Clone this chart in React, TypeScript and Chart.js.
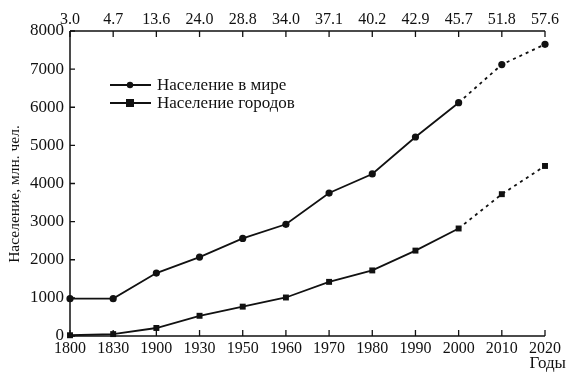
import React, { useEffect, useRef } from 'react';
import { Chart, registerables } from 'chart.js';

Chart.register(...registerables);

const years = ['1800', '1830', '1900', '1930', '1950', '1960', '1970', '1980', '1990', '2000', '2010', '2020'];
const urbanShare = ['3.0', '4.7', '13.6', '24.0', '28.8', '34.0', '37.1', '40.2', '42.9', '45.7', '51.8', '57.6'];
const worldPop = [980, 980, 1650, 2070, 2560, 2930, 3750, 4250, 5220, 6120, 7120, 7650];
const urbanPop = [20, 50, 210, 530, 770, 1010, 1420, 1720, 2240, 2820, 3720, 4460];
const yMin = 0;
const yMax = 8000;
const yStep = 1000;
const legendLabels = ['Население в мире', 'Население городов'];
const yTitle = 'Население, млн. чел.';
const xTitle = 'Годы';
const forecastFrom = 9; // index of 2000: segments after it are dashed

const FONT = "'Liberation Serif', 'Times New Roman', serif";

const axesPlugin = {
  id: 'customAxes',
  beforeDatasetsDraw(chart: any) {
    const { ctx, chartArea: a, scales } = chart;
    ctx.save();
    ctx.strokeStyle = '#111';
    ctx.lineWidth = 1.5;
    ctx.beginPath();
    ctx.moveTo(a.left, a.top);
    ctx.lineTo(a.left, a.bottom);
    ctx.moveTo(a.left, a.bottom);
    ctx.lineTo(a.right, a.bottom);
    ctx.moveTo(a.left, a.top);
    ctx.lineTo(a.right, a.top);
    ctx.stroke();
    ctx.lineWidth = 1.3;
    ctx.beginPath();
    const y = scales.y;
    for (let v = yMin; v <= yMax; v += yStep) {
      const py = y.getPixelForValue(v);
      ctx.moveTo(a.left, py);
      ctx.lineTo(a.left + 5, py);
    }
    const x = scales.x;
    const x2 = scales.x2;
    for (let i = 0; i < years.length; i++) {
      const px = x.getPixelForTick(i);
      ctx.moveTo(px, a.bottom);
      ctx.lineTo(px, a.bottom - 6);
      const px2 = x2.getPixelForTick(i);
      ctx.moveTo(px2, a.top);
      ctx.lineTo(px2, a.top + 6);
    }
    ctx.stroke();
    ctx.restore();
  },
  afterDraw(chart: any) {
    const { ctx } = chart;
    ctx.save();
    ctx.fillStyle = '#111';
    ctx.font = `15.5px ${FONT}`;
    ctx.translate(15, 194);
    ctx.rotate(-Math.PI / 2);
    ctx.textAlign = 'center';
    ctx.textBaseline = 'middle';
    ctx.fillText(yTitle, 0, 0);
    ctx.restore();

    ctx.save();
    ctx.fillStyle = '#111';
    ctx.font = `17px ${FONT}`;
    ctx.textAlign = 'right';
    ctx.textBaseline = 'middle';
    ctx.fillText(xTitle, 566, 364);

    const rows = [85, 103];
    ctx.strokeStyle = '#111';
    ctx.lineWidth = 1.8;
    ctx.textAlign = 'left';
    ctx.font = `17px ${FONT}`;
    rows.forEach((ry, i) => {
      ctx.beginPath();
      ctx.moveTo(110, ry);
      ctx.lineTo(151, ry);
      ctx.stroke();
      ctx.beginPath();
      if (i === 0) {
        ctx.arc(130, ry, 3.2, 0, Math.PI * 2);
      } else {
        ctx.rect(126, ry - 4, 8, 8);
      }
      ctx.fill();
      ctx.fillText(legendLabels[i], 157, ry + 1);
    });
    ctx.restore();
  },
};

export default function App() {
  const ref = useRef<HTMLCanvasElement>(null);
  useEffect(() => {
    document.body.style.margin = '0';
    const canvas = ref.current!;
    const dash = (c: any) => (c.p0DataIndex >= forecastFrom ? [3, 4] : undefined);
    const chart = new Chart(canvas, {
      type: 'line',
      data: {
        labels: years,
        datasets: [
          {
            label: legendLabels[0],
            data: worldPop,
            borderColor: '#111',
            backgroundColor: '#111',
            borderWidth: 1.8,
            pointStyle: 'circle',
            pointRadius: 3.6,
            pointBorderWidth: 0,
            tension: 0,
            clip: false as any,
            segment: { borderDash: dash },
          },
          {
            label: legendLabels[1],
            data: urbanPop,
            borderColor: '#111',
            backgroundColor: '#111',
            borderWidth: 1.8,
            pointStyle: 'rect',
            pointRadius: 4.2,
            pointBorderWidth: 0,
            tension: 0,
            clip: false as any,
            segment: { borderDash: dash },
          },
        ],
      },
      options: {
        responsive: false,
        animation: false,
        layout: { padding: { left: 0, right: 32, top: 0, bottom: 0 } },
        plugins: { legend: { display: false }, tooltip: { enabled: false } },
        scales: {
          x: {
            type: 'category',
            position: 'bottom',
            offset: false,
            grid: { display: false, drawTicks: false },
            border: { display: false },
            ticks: {
              color: '#111',
              font: { family: FONT, size: 16 },
              padding: 3,
              maxRotation: 0,
              autoSkip: false,
            },
            afterFit: (s: any) => {
              s.height = 36;
            },
          },
          x2: {
            type: 'category',
            position: 'top',
            labels: urbanShare,
            offset: false,
            grid: { display: false, drawTicks: false },
            border: { display: false },
            ticks: {
              color: '#111',
              font: { family: FONT, size: 16 },
              padding: 2,
              maxRotation: 0,
              autoSkip: false,
            },
            afterFit: (s: any) => {
              s.height = 31;
            },
          },
          y: {
            type: 'linear',
            min: yMin,
            max: yMax,
            grid: { display: false, drawTicks: false },
            border: { display: false },
            ticks: {
              stepSize: yStep,
              color: '#111',
              font: { family: FONT, size: 17 },
              padding: 6,
              callback: (v: any) => String(v),
            },
            afterFit: (s: any) => {
              s.width = 70;
            },
          },
        },
      } as any,
      plugins: [axesPlugin],
    });
    return () => chart.destroy();
  }, []);
  return <canvas ref={ref} width={577} height={372} style={{ display: 'block', width: 577, height: 372 }} />;
}
